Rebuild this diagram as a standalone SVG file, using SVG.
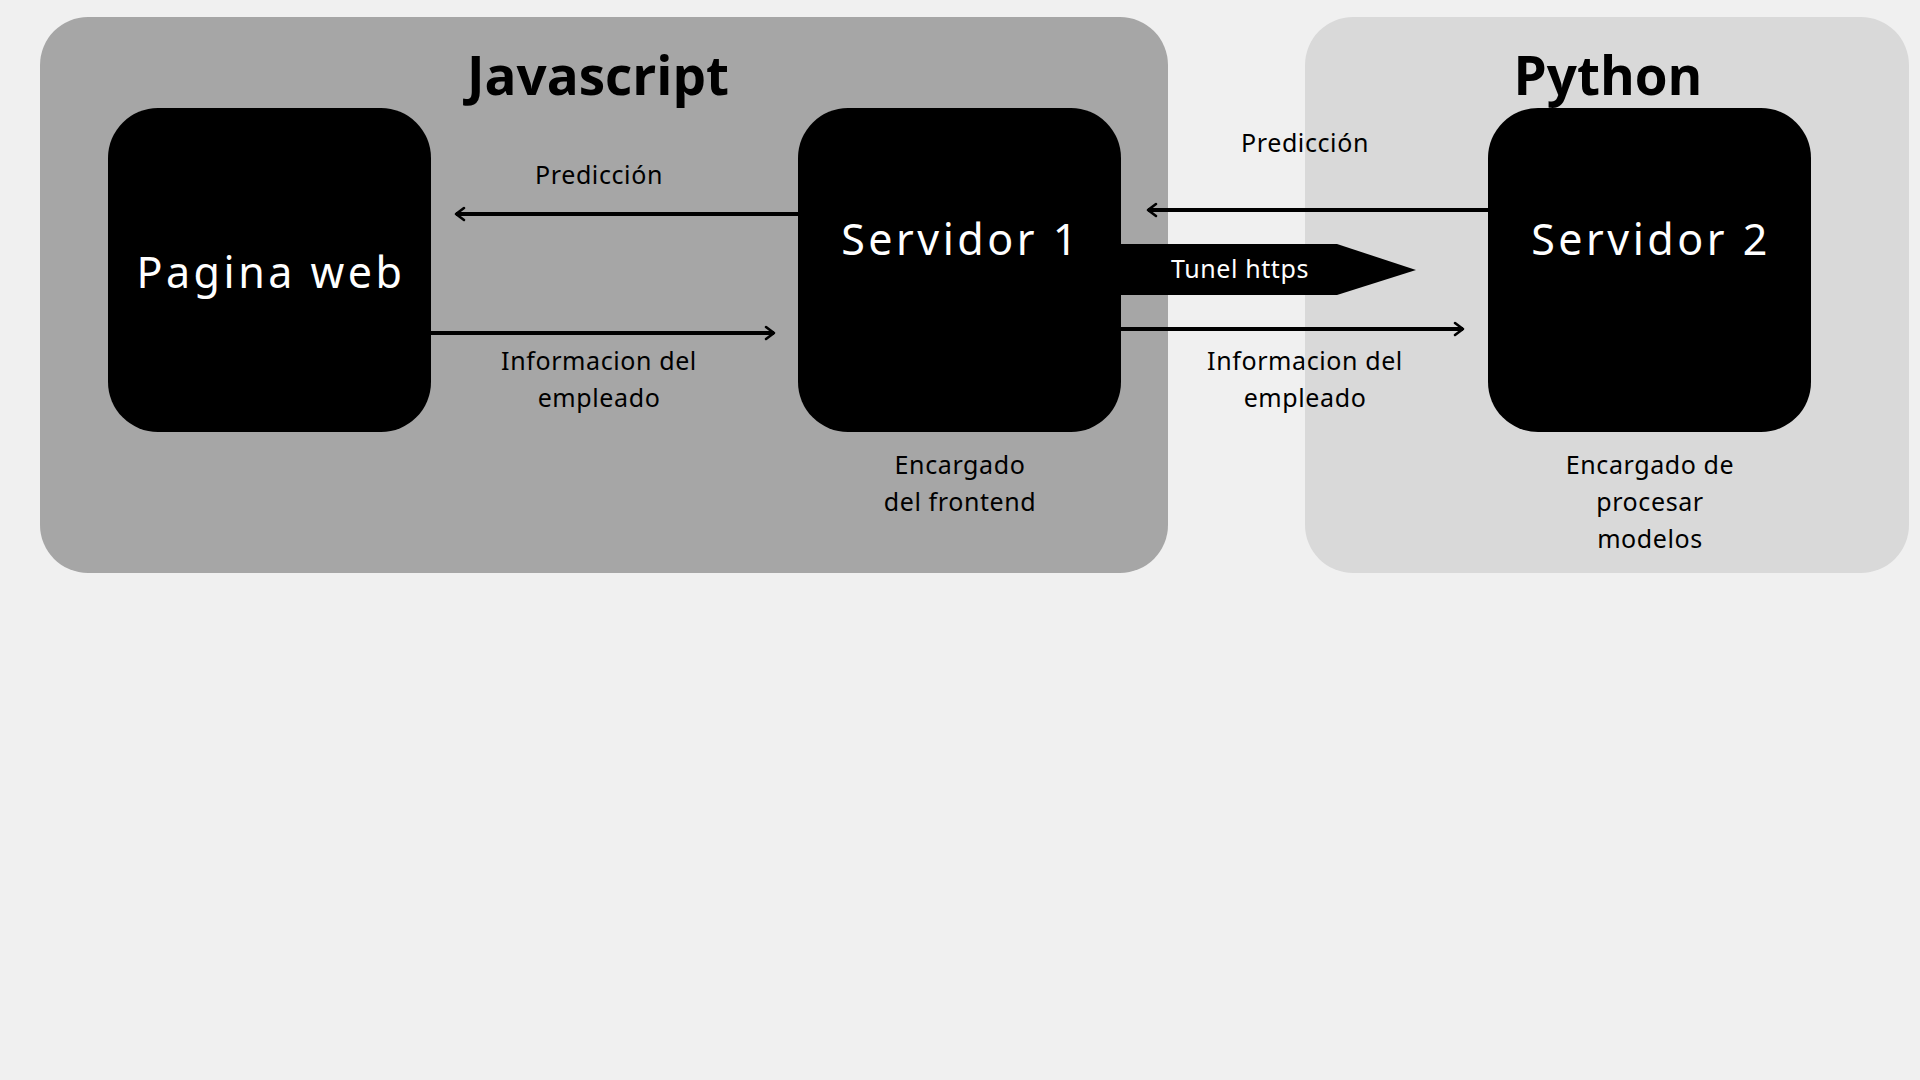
<svg xmlns="http://www.w3.org/2000/svg" width="1920" height="1080" viewBox="0 0 1920 1080">
<style>
.bg{fill:#f0f0f0}
.title{font-family:"Open Sans","Noto Sans",sans-serif;font-weight:700;font-size:53px;fill:#000;text-anchor:middle}
.node{fill:#000}
.ntext{font-family:"Noto Sans","Open Sans",sans-serif;font-size:43px;fill:#fff;text-anchor:middle;letter-spacing:3.5px}
.lbl{font-family:"Noto Sans","Open Sans",sans-serif;font-size:25px;fill:#000;text-anchor:middle;letter-spacing:0.6px}
.wlbl{font-family:"Noto Sans","Open Sans",sans-serif;font-size:25px;fill:#fff;text-anchor:middle;letter-spacing:0.6px}
.conn{stroke:#000;stroke-width:4;fill:none}
</style>
<defs>
<marker id="arr" viewBox="0 0 12 16" refX="10" refY="8" markerWidth="12" markerHeight="16" markerUnits="userSpaceOnUse" orient="auto">
<path d="M2,2 L10,8 L2,14" fill="none" stroke="#000" stroke-width="2.6" stroke-linecap="round" stroke-linejoin="round"/>
</marker>
</defs>
<rect class="bg" x="0" y="0" width="1920" height="1080"/>
<g id="group-javascript">
<rect x="40" y="17" width="1128" height="556" rx="48" fill="#a6a6a6"/>
<text class="title" x="598" y="95">Javascript</text>
</g>
<g id="group-python">
<rect x="1305" y="17" width="604" height="556" rx="48" fill="#d9d9d9"/>
<text class="title" x="1608" y="95">Python</text>
</g>
<g id="connectors">
<line class="conn" x1="798" y1="214" x2="456" y2="214" marker-end="url(#arr)"/>
<line class="conn" x1="431" y1="333" x2="774" y2="333" marker-end="url(#arr)"/>
<line class="conn" x1="1488" y1="210" x2="1148" y2="210" marker-end="url(#arr)"/>
<line class="conn" x1="1121" y1="329" x2="1463" y2="329" marker-end="url(#arr)"/>
<text class="lbl" x="599" y="184">Predicción</text>
<text class="lbl" x="599" y="370">Informacion del</text>
<text class="lbl" x="599" y="407">empleado</text>
<text class="lbl" x="1305" y="152">Predicción</text>
<text class="lbl" x="1305" y="370">Informacion del</text>
<text class="lbl" x="1305" y="407">empleado</text>
</g>
<g id="tunel">
<polygon points="1121,244 1337,244 1416,270 1337,295 1121,295" fill="#000"/>
<text class="wlbl" x="1240" y="278">Tunel https</text>
</g>
<g id="node-pagina-web">
<rect class="node" x="108" y="108" width="323" height="324" rx="50"/>
<text class="ntext" x="271" y="288">Pagina web</text>
</g>
<g id="node-servidor-1">
<rect class="node" x="798" y="108" width="323" height="324" rx="50"/>
<text class="ntext" x="961" y="255">Servidor 1</text>
<text class="lbl" x="960" y="474">Encargado</text>
<text class="lbl" x="960" y="511">del frontend</text>
</g>
<g id="node-servidor-2">
<rect class="node" x="1488" y="108" width="323" height="324" rx="50"/>
<text class="ntext" x="1651" y="255">Servidor 2</text>
<text class="lbl" x="1650" y="474">Encargado de</text>
<text class="lbl" x="1650" y="511">procesar</text>
<text class="lbl" x="1650" y="548">modelos</text>
</g>
</svg>
